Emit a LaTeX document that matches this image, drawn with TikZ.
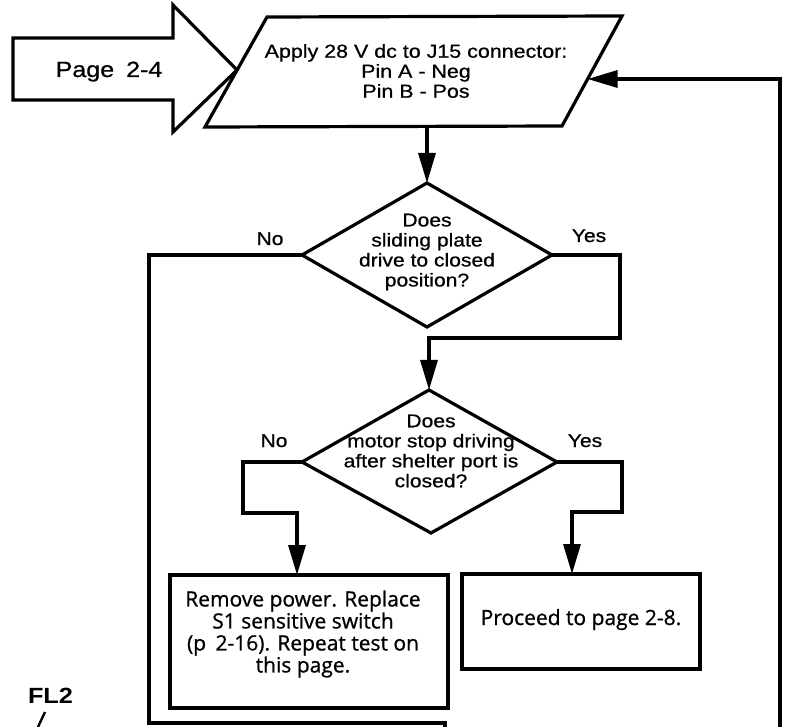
\documentclass[tikz,border=0pt]{standalone}
\usepackage{fontspec}
\setmainfont[FakeStretch=1.14,FakeBold=0.7]{Liberation Sans}
\newfontfamily\boxfont[FakeBold=0.9]{Open Sans}
\newfontfamily\tagfont[FakeStretch=1.15]{Liberation Sans Bold}
\usetikzlibrary{arrows.meta}
\tikzset{
  outline/.style={line width=3.2pt, line join=miter},
  conn/.style={line width=3.2pt, line join=miter, -{Triangle[length=30pt,width=17pt]}},
  plain/.style={line width=3.2pt, line join=miter},
  lbl/.style={inner sep=0pt, font=\fontsize{18.5}{20}\selectfont, anchor=base},
  qtext/.style={inner sep=0pt, align=center, font=\fontsize{18.5}{20}\selectfont},
  btext/.style={inner sep=0pt, align=center, font=\boxfont\fontsize{21}{22}\selectfont},
}
\begin{document}
\begin{tikzpicture}[x=1pt,y=-1pt]
\useasboundingbox (0,0) rectangle (785,727);
\fill[white] (0,0) rectangle (785,727);

% big entry arrow
\coordinate (pL) at (237,70);
\draw[outline] (13,38) -- (173,38) -- (173,5) -- (pL) -- (173,132) -- (173,100) -- (13,100) -- cycle;
\node[inner sep=0pt, anchor=base, font=\fontsize{22}{24}\selectfont] (pg) at (109,77) {Page\hspace{5pt} 2-4};

% parallelogram
\coordinate (pTL) at (267,17);
\coordinate (pTR) at (622,16);
\coordinate (pBR) at (562,126);
\coordinate (pBL) at (205,127);
\coordinate (pR) at (587.6,79);
\coordinate (pB) at (427,126.5);
\draw[outline] (pTL) -- (pTR) -- (pBR) -- (pBL) -- cycle;
\node[inner sep=0pt, align=center, font=\fontsize{18.8}{20}\selectfont] (t1) at (416,71)
  {Apply 28 V dc to J15 connector:\\Pin A - Neg\\Pin B - Pos};

% diamond 1
\coordinate (d1T) at (427,183);
\coordinate (d1L) at (302,255);
\coordinate (d1R) at (552,255);
\coordinate (d1B) at (427,327);
\draw[outline] (d1T) -- (d1R) -- (d1B) -- (d1L) -- cycle;
\node[qtext] (q1) at (427,252) {Does\\sliding plate\\drive to closed\\position?};
\node[lbl] (no1) at (270,245) {No};
\node[lbl] (yes1) at (589,242) {Yes};

% diamond 2
\coordinate (d2T) at (429,390);
\coordinate (d2L) at (302,462);
\coordinate (d2R) at (557,462);
\coordinate (d2B) at (431,533);
\draw[outline] (d2T) -- (d2R) -- (d2B) -- (d2L) -- cycle;
\node[qtext] (q2) at (431,451) {Does\\motor stop driving\\after shelter port is\\closed?};
\node[lbl] (no2) at (274,447) {No};
\node[lbl] (yes2) at (585,447) {Yes};

% boxes
\draw[outline] (170,575) rectangle (448,708);
\node[btext] (rtext) at (303,634) {Remove power. Replace\\S1 sensitive switch\\(p\hspace{4pt} 2-16). Repeat test on\\this page.};
\draw[outline] (462,574) rectangle (700,669);
\node[inner sep=0pt, anchor=base, font=\boxfont\fontsize{21}{22}\selectfont] (ptext) at (581,625) {Proceed to page 2-8.};
\coordinate (remT) at (297,575);
\coordinate (proT) at (572,574);

% connectors
\draw[conn] (pB) -- (d1T);
\draw[plain] (d1L) -- (149,255) coordinate (c1) -- (149,723) coordinate (c2) -- (445,723) coordinate (c3) -- (445,728);
\draw[conn] (d1R) -- (620,255) -- (620,338) -- (429,338) -- (d2T);
\draw[conn] (d2L) -- (243,462) -- (243,513) -- (297,513) -- (remT);
\draw[conn] (d2R) -- (622,462) -- (622,512) -- (572,512) -- (proT);
\coordinate (fbB) at (780,728);
\coordinate (fbT) at (780,79);
\draw[conn] (fbB) -- (fbT) -- (pR);

% figure tag
\node[inner sep=0pt, anchor=base, font=\tagfont\fontsize{22}{24}\selectfont] (fl) at (50.5,703) {FL2};
\coordinate (tkA) at (45,712);
\coordinate (tkB) at (38,727);
\draw[line width=2.4pt] (tkA) -- (tkB);
\end{tikzpicture}
\end{document}
